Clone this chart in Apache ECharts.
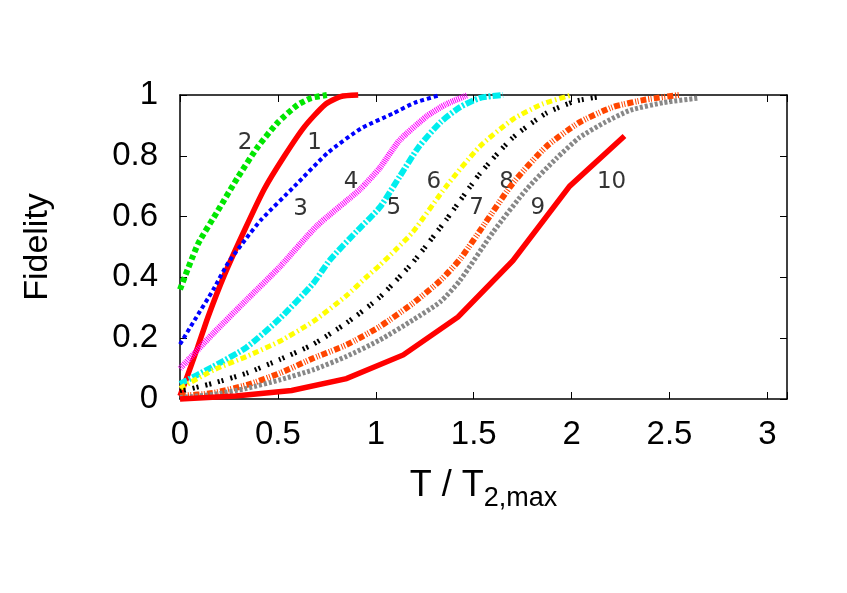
<!DOCTYPE html>
<html>
<head>
<meta charset="utf-8">
<script src="https://cdn.jsdelivr.net/npm/echarts@6/dist/echarts.min.js"></script>
<style>
  html, body { margin: 0; padding: 0; background: #fff; }
  #main { width: 847px; height: 593px; }
</style>
</head>
<body>
<div id="main"></div>
<script>
// curve values, x in T / T2,max
const x1 = [0, 0.026, 0.09, 0.143, 0.228, 0.33, 0.43, 0.534, 0.636, 0.738, 0.82, 0.91]
const y1 = [0.01, 0.055, 0.17, 0.27, 0.41, 0.556, 0.69, 0.80, 0.896, 0.967, 0.995, 1.0]

const x2 = [0, 0.092, 0.194, 0.296, 0.398, 0.50, 0.60, 0.67, 0.75]
const y2 = [0.36, 0.51, 0.62, 0.73, 0.83, 0.91, 0.967, 0.99, 1.0]

const x3 = [0, 0.075, 0.17, 0.245, 0.34, 0.415, 0.585, 0.755, 0.925, 1.09, 1.2, 1.33]
const y3 = [0.18, 0.26, 0.36, 0.447, 0.53, 0.59, 0.70, 0.81, 0.89, 0.94, 0.975, 1.0]

const x4 = [0, 0.17, 0.34, 0.51, 0.70, 0.92, 1.02, 1.12, 1.26, 1.36, 1.47]
const y4 = [0.1, 0.216, 0.326, 0.435, 0.57, 0.69, 0.76, 0.85, 0.93, 0.97, 1.0]

const x5 = [0, 0.17, 0.34, 0.51, 0.68, 0.765, 0.90, 1.02, 1.12, 1.22, 1.33, 1.43, 1.53, 1.65]
const y5 = [0.05, 0.107, 0.17, 0.265, 0.38, 0.457, 0.55, 0.63, 0.73, 0.83, 0.91, 0.96, 0.99, 1.0]

const x6 = [0, 0.17, 0.34, 0.51, 0.68, 0.85, 0.95, 1.02, 1.10, 1.19, 1.36, 1.53, 1.70, 1.85, 2.0]
const y6 = [0.035, 0.095, 0.14, 0.19, 0.255, 0.34, 0.40, 0.44, 0.49, 0.55, 0.70, 0.83, 0.92, 0.97, 1.0]

const x7 = [0, 0.17, 0.34, 0.51, 0.68, 0.85, 1.02, 1.19, 1.36, 1.53, 1.70, 1.87, 2.02, 2.15]
const y7 = [0.025, 0.052, 0.085, 0.13, 0.18, 0.25, 0.335, 0.45, 0.59, 0.74, 0.86, 0.94, 0.98, 0.995]

const x8 = [0, 0.17, 0.34, 0.51, 0.68, 0.85, 1.02, 1.19, 1.33, 1.43, 1.56, 1.70, 1.87, 2.04, 2.21, 2.38, 2.55]
const y8 = [0.01, 0.02, 0.046, 0.085, 0.134, 0.178, 0.238, 0.315, 0.39, 0.46, 0.58, 0.71, 0.83, 0.91, 0.96, 0.985, 1.0]

const x9 = [0, 0.17, 0.34, 0.51, 0.68, 0.85, 1.02, 1.19, 1.33, 1.43, 1.60, 1.77, 1.92, 2.04, 2.17, 2.30, 2.47, 2.65]
const y9 = [0.005, 0.015, 0.035, 0.063, 0.096, 0.14, 0.194, 0.26, 0.32, 0.39, 0.55, 0.69, 0.79, 0.86, 0.91, 0.95, 0.975, 0.99]

const x10 = [0, 0.284, 0.57, 0.85, 1.14, 1.42, 1.70, 1.99, 2.27]
const y10 = [0.0, 0.01, 0.028, 0.067, 0.145, 0.27, 0.455, 0.70, 0.865]

// curve numbers written inside the plot
const labelText = ['2', '1', '4', '3', '6', '5', '8', '7', '9', '10']
const labelX = [0.332, 0.687, 0.874, 0.616, 1.296, 1.092, 1.668, 1.515, 1.827, 2.204]
const labelY = [0.842, 0.841, 0.715, 0.624, 0.714, 0.628, 0.714, 0.628, 0.628, 0.714]

const xTicks = { min: 0, max: 3.1, interval: 0.5 }
const yTicks = { min: 0, max: 1, interval: 0.2 }

const curves = [
  { xs: x1, ys: y1, color: '#ff0000', width: 5.5, type: 'solid', smooth: 0.2 },
  { xs: x2, ys: y2, color: '#00e600', width: 6, type: [5, 3], smooth: 0.2 },
  { xs: x3, ys: y3, color: '#0000ff', width: 4, type: [4, 3], smooth: 0.2 },
  { xs: x4, ys: y4, color: '#ff00ff', width: 6, type: [1, 1], smooth: 0.2 },
  { xs: x5, ys: y5, color: '#00eeee', width: 6, type: [8, 2, 2, 2], smooth: 0.2 },
  { xs: x6, ys: y6, color: '#ffff00', width: 5, type: [6, 3, 1.5, 3], smooth: 0.2 },
  { xs: x7, ys: y7, color: '#000000', width: 5, type: [2, 2, 2, 7], smooth: 0.2 },
  { xs: x8, ys: y8, color: '#ff4500', width: 6, type: [6, 2, 1, 1.5, 1, 2], smooth: 0.2 },
  { xs: x9, ys: y9, color: '#888888', width: 5, type: [3, 2], smooth: 0.2 },
  { xs: x10, ys: y10, color: '#ff0000', width: 5.5, type: 'solid', smooth: false }
]

const font = 'Liberation Sans, Arial, Helvetica, sans-serif'

const series = curves.map((c, i) => ({
  name: String(i + 1),
  type: 'line',
  data: c.xs.map((x, k) => [x, c.ys[k]]),
  showSymbol: false,
  symbol: 'none',
  smooth: c.smooth,
  clip: false,
  lineStyle: { color: c.color, width: c.width, type: c.type, cap: 'butt', join: 'miter' }
}))

series.push({
  type: 'scatter',
  symbolSize: 0,
  data: labelText.map((t, i) => [labelX[i], labelY[i], t]),
  label: {
    show: true,
    position: 'inside',
    formatter: p => p.data[2],
    fontFamily: 'DejaVu Sans',
    fontSize: 23,
    color: '#000'
  }
})

const frameAxis = {
  axisLine: { show: true, onZero: false, lineStyle: { color: '#000', width: 1.5 } },
  axisTick: { show: true, inside: true, length: 7, lineStyle: { color: '#000', width: 1 } },
  splitLine: { show: false }
}

const option = {
  animation: false,
  backgroundColor: '#fff',
  grid: { left: 180, right: 60, top: 95, bottom: 194 },
  xAxis: [
    {
      type: 'value',
      ...xTicks,
      ...frameAxis,
      position: 'bottom',
      name: 'T / T{sub|2,max}',
      nameLocation: 'middle',
      nameGap: 62,
      nameTextStyle: {
        fontFamily: font, fontSize: 36, color: '#000',
        rich: { sub: { fontFamily: font, fontSize: 27, color: '#000', padding: [24, 0, 0, 0] } }
      },
      axisLabel: {
        margin: 19, fontFamily: font, fontSize: 33, color: '#000',
        formatter: v => (Math.abs(v * 2 - Math.round(v * 2)) < 1e-6 ? String(v) : '')
      }
    },
    { type: 'value', ...xTicks, ...frameAxis, position: 'top', axisLabel: { show: false } }
  ],
  yAxis: [
    {
      type: 'value',
      ...yTicks,
      ...frameAxis,
      position: 'left',
      name: 'Fidelity',
      nameLocation: 'middle',
      nameGap: 125,
      nameTextStyle: { fontFamily: font, fontSize: 34, color: '#000' },
      axisLabel: { margin: 22, fontFamily: font, fontSize: 33, color: '#000' }
    },
    { type: 'value', ...yTicks, ...frameAxis, position: 'right', axisLabel: { show: false } }
  ],
  series: series
}

const myChart = echarts.init(document.getElementById('main'))
myChart.setOption(option)
</script>
</body>
</html>
